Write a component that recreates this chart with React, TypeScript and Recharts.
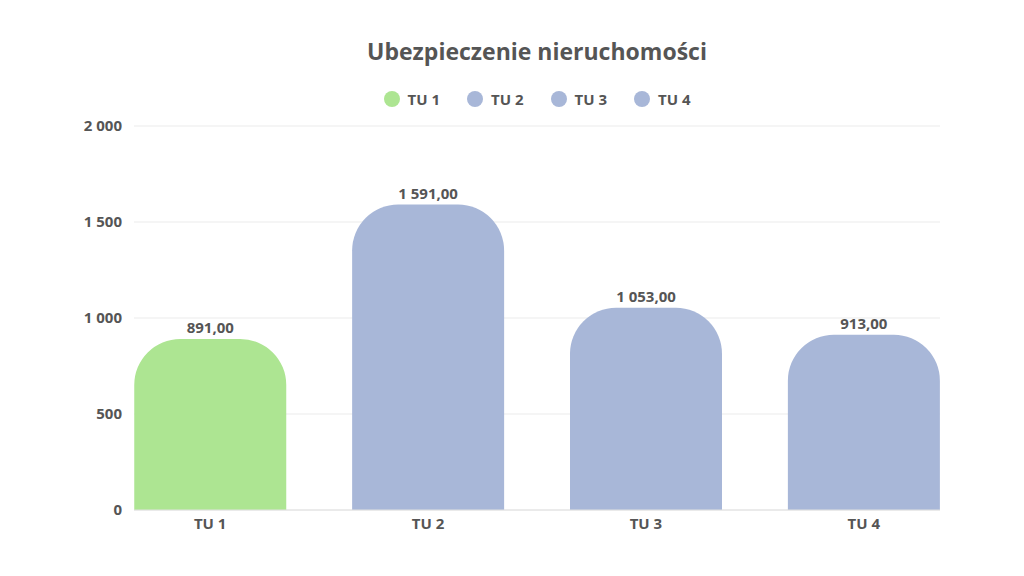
import { BarChart, Bar, XAxis, YAxis, CartesianGrid, LabelList, Cell } from "recharts";

const categories = ["TU 1", "TU 2", "TU 3", "TU 4"];
const values = [891, 1591, 1053, 913];
const barColors = ["#ade592", "#a8b7d8", "#a8b7d8", "#a8b7d8"];
const yTicks = [0, 500, 1000, 1500, 2000];

const data = categories.map((name, i) => ({ name, value: values[i] }));

const FONT = "'Open Sans', 'Noto Sans', sans-serif";
const TEXT = "#555555";

// 1 591,00 style: space as thousands separator, comma decimals
function groupThousands(n: number) {
  return String(Math.trunc(n)).replace(/\B(?=(\d{3})+(?!\d))/g, " ");
}
const fmtTick = (v: number) => groupThousands(v);
const fmtLabel = (v: number) => `${groupThousands(v)},${(Math.abs(v) % 1).toFixed(2).slice(2)}`;

// title and legend are centred over the plot area (x 134..940)
const PLOT_LEFT = 134;
const PLOT_WIDTH = 806;

function LegendRow() {
  return (
    <div
      style={{
        position: "absolute", top: 89, left: PLOT_LEFT, width: PLOT_WIDTH,
        display: "flex", justifyContent: "center", gap: 27, fontFamily: FONT,
      }}
    >
      {categories.map((c, i) => (
        <div key={c} style={{ display: "flex", alignItems: "center", gap: 8 }}>
          <span style={{ width: 16, height: 16, borderRadius: 8, background: barColors[i], display: "inline-block" }} />
          <span style={{ fontSize: 15, fontWeight: 700, color: TEXT }}>{c}</span>
        </div>
      ))}
    </div>
  );
}

export default function App() {
  return (
    <div style={{ position: "absolute", left: 0, top: 0, width: 1024, height: 576, background: "#fff" }}>
      <BarChart width={1024} height={576} data={data} margin={{ top: 126, right: 84, left: 74, bottom: 0 }}>
        <CartesianGrid vertical={false} stroke="#ebebeb" />
        <XAxis
          dataKey="name"
          axisLine={{ stroke: "#e0e0e0" }}
          tickLine={false}
          padding={{ left: -32.75, right: -32.75 }}
          height={66}
          tick={{ fill: TEXT, fontSize: 15, fontWeight: 700, fontFamily: FONT }}
          tickMargin={2}
        />
        <YAxis
          domain={[0, 2000]}
          ticks={yTicks}
          width={60}
          axisLine={false}
          tickLine={false}
          tickFormatter={fmtTick}
          tick={{ fill: TEXT, fontSize: 15, fontWeight: 700, fontFamily: FONT }}
          tickMargin={6}
        />
        <Bar dataKey="value" barSize={152} radius={[46, 46, 0, 0]} isAnimationActive={false}>
          {data.map((d, i) => (
            <Cell key={d.name} fill={barColors[i]} />
          ))}
          <LabelList
            dataKey="value"
            position="top"
            offset={6}
            formatter={(v: any) => fmtLabel(Number(v))}
            style={{ fill: TEXT, fontSize: 15, fontWeight: 700, fontFamily: FONT }}
          />
        </Bar>
      </BarChart>
      <div
        style={{
          position: "absolute", top: 35, left: PLOT_LEFT, width: PLOT_WIDTH, textAlign: "center",
          fontFamily: FONT, fontSize: 23, fontWeight: 700, color: TEXT,
        }}
      >
        Ubezpieczenie nieruchomości
      </div>
      <LegendRow />
    </div>
  );
}
